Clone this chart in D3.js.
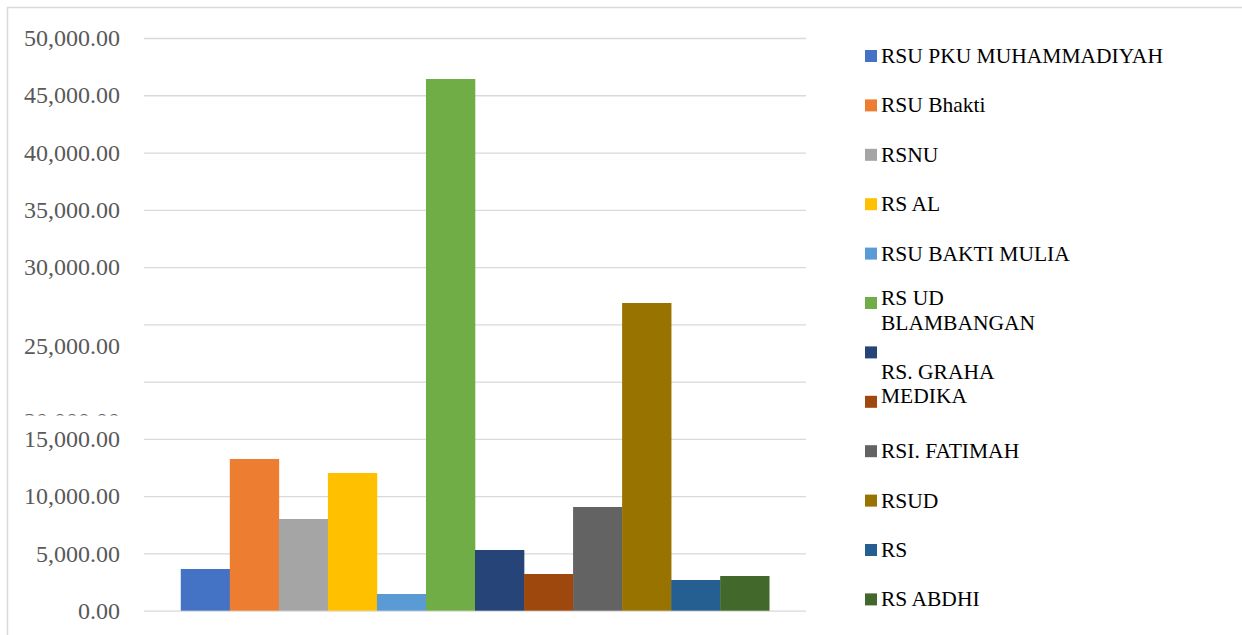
<!DOCTYPE html>
<html>
<head>
<meta charset="utf-8">
<script src="https://cdn.jsdelivr.net/npm/d3@7"></script>
<style>
  body { margin: 0; background: #fff; }
  svg { display: block; }
  text { font-family: 'Liberation Serif'; }
</style>
</head>
<body>
<div id="chart"></div>
<script>
// hospitals (series) and their values
const hospitals = ["RSU PKU MUHAMMADIYAH", "RSU Bhakti", "RSNU", "RS AL", "RSU BAKTI MULIA",
  "RS UD BLAMBANGAN", "RS. GRAHA MEDIKA", "RS (brown)", "RSI. FATIMAH", "RSUD", "RS", "RS ABDHI"];
const values = [3640, 13245, 8006, 12022, 1458, 46420, 5300, 3204, 9054, 26864, 2680, 3030];
// legend text as it shows in the original (line breaks kept)
const legendLabels = ["RSU PKU MUHAMMADIYAH", "RSU Bhakti", "RSNU", "RS AL", "RSU BAKTI MULIA",
  "RS UD\nBLAMBANGAN", "\nRS. GRAHA\nMEDIKA", "", "RSI. FATIMAH", "RSUD", "RS", "RS ABDHI"];
const colors = ["#4472C4", "#ED7D31", "#A5A5A5", "#FFC000", "#5B9BD5", "#70AD47",
  "#264478", "#9E480E", "#636363", "#997300", "#255E91", "#43682B"];
const yTicks = [0, 5000, 10000, 15000, 20000, 25000, 30000, 35000, 40000, 45000, 50000];

const w = 1242, h = 635;
const plot = {left: 144, right: 806, top: 38, bottom: 610.7};

const svg = d3.select("#chart").append("svg")
  .attr("width", w)
  .attr("height", h);

// outer chart border (right/bottom edges run off the picture)
svg.append("rect")
  .attr("x", 7.5).attr("y", 7.5)
  .attr("width", 1260).attr("height", 660)
  .attr("fill", "none")
  .attr("stroke", "#d9d9d9")
  .attr("stroke-width", 1.5);

const y = d3.scaleLinear().domain([0, 50000]).range([plot.bottom, plot.top]);
const x = d3.scaleBand().domain(hospitals).range([plot.left, plot.right])
  .paddingInner(0).paddingOuter(0.75);

// gridlines
svg.append("g")
    .attr("transform", `translate(${plot.left},0)`)
    .call(d3.axisLeft(y).tickValues(yTicks).tickSize(-(plot.right - plot.left)).tickFormat(""))
    .call(g => g.select(".domain").remove())
    .call(g => g.selectAll("line").attr("stroke", "#d9d9d9").attr("stroke-width", 1.3));

// tick labels
const yAxis = svg.append("g")
    .attr("transform", `translate(${plot.left},0)`)
    .call(d3.axisLeft(y).tickValues(yTicks).tickSize(0).tickPadding(24).tickFormat(d3.format(",.2f")))
    .call(g => g.select(".domain").remove())
    .attr("font-family", null);

yAxis.selectAll("text")
  .style("font-family", "Liberation Serif")
  .attr("font-size", 24)
  .attr("fill", "#595959");

// in the original two labels slipped down; the 20,000 one is mostly hidden
const shift = {25000: 21, 20000: 39.5};
yAxis.selectAll(".tick")
  .filter(d => shift[d])
  .select("text")
  .attr("y", d => shift[d]);

svg.append("clipPath").attr("id", "cut20")
  .append("rect").attr("x", -200).attr("y", -100).attr("width", 400).attr("height", 100 + 415 - y(20000));
yAxis.selectAll(".tick")
  .filter(d => d == 20000)
  .attr("clip-path", "url(#cut20)");

// bars
svg.append("g")
  .selectAll("rect")
  .data(values)
  .join("rect")
    .attr("x", (d, i) => x(hospitals[i]))
    .attr("y", d => y(d))
    .attr("width", x.bandwidth() + 0.3)
    .attr("height", d => y(0) - y(d))
    .attr("fill", (d, i) => colors[i]);

// legend
const legend = svg.append("g");
const step = 49.4;
const items = legend.selectAll("g")
  .data(legendLabels)
  .join("g")
    .attr("transform", (d, i) => `translate(865,${56 + i * step})`);

items.append("rect")
  .attr("x", 0).attr("y", -6)
  .attr("width", 12).attr("height", 12)
  .attr("fill", (d, i) => colors[i]);

items.each(function(d) {
  const lines = d.split("\n");
  const first = lines.length > 1 ? 2 : 7;
  d3.select(this).selectAll("text")
    .data(lines)
    .join("text")
      .attr("x", 16)
      .attr("y", (l, j) => first + j * 24.5)
      .style("font-family", "Liberation Serif")
      .attr("font-size", 21.5)
      .attr("fill", "#000")
      .text(l => l);
});
</script>
</body>
</html>
